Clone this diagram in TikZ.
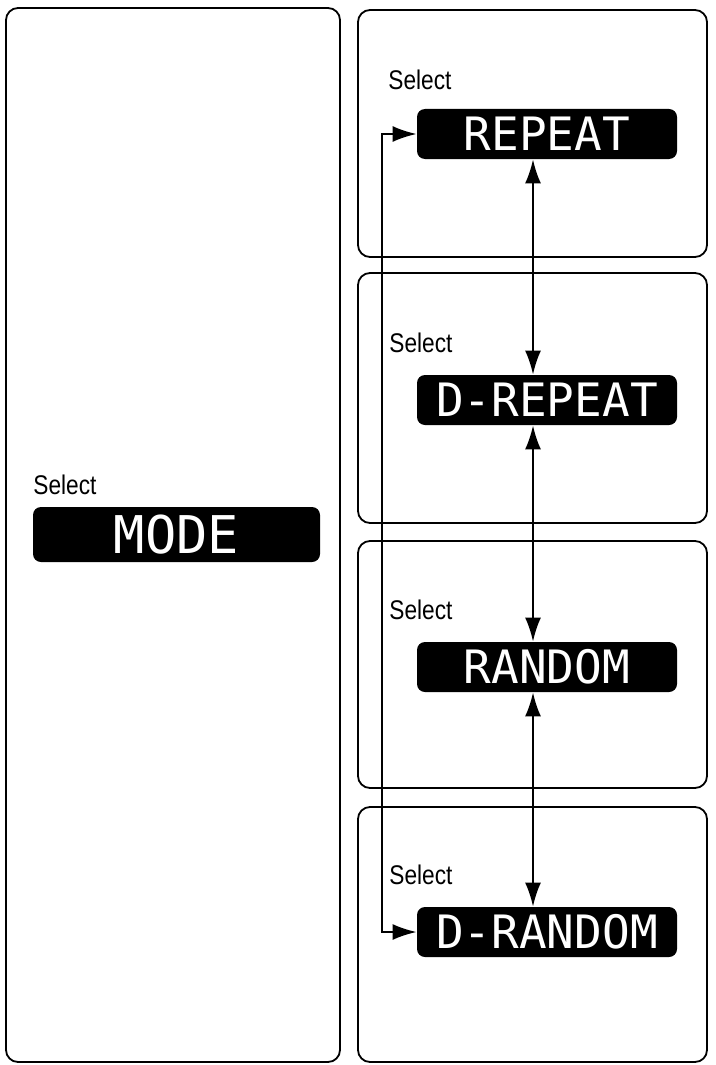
\documentclass[tikz,border=0pt]{standalone}
\usepackage{fontspec}
\setmainfont{Liberation Sans}
\newfontfamily\selfont[FakeStretch=0.84]{Liberation Sans}
\newfontfamily\lcdfont{DejaVu Sans Mono}
\usetikzlibrary{arrows.meta,positioning}

\begin{document}
\begin{tikzpicture}[x=0.5pt,y=-0.5pt,
    panel/.style={draw,line width=0.9pt,rounded corners=6pt,inner sep=0pt},
    lcd/.style={fill=black,text=white,rounded corners=4pt,inner sep=0pt,
                minimum width=130pt,minimum height=25pt,
                font=\lcdfont\fontsize{23}{23}\selectfont},
    sel/.style={anchor=west,inner sep=0pt,font=\selfont\fontsize{13.5}{13.5}\selectfont},
    dbl/.style={{Latex[length=12pt,width=8pt]}-{Latex[length=12pt,width=8pt]},line width=1pt}]
  \useasboundingbox[fill=white] (0,0) rectangle (716,1065);
  % panels
  \node[panel,minimum width=167pt,minimum height=527pt]   (pmode) at (173,535)   {};
  \node[panel,minimum width=174.5pt,minimum height=123.5pt] (p1) at (532.5,133.5) {};
  \node[panel,minimum width=174.5pt,minimum height=125pt]   (p2) at (532.5,398)   {};
  \node[panel,minimum width=174.5pt,minimum height=123.5pt] (p3) at (532.5,664.5) {};
  \node[panel,minimum width=174.5pt,minimum height=127.5pt] (p4) at (532.5,934.5) {};
  % displays
  \node[lcd,minimum width=143.5pt,minimum height=27.5pt,
        font=\lcdfont\fontsize{26}{26}\selectfont] (mode) at (176.5,534.5) {MODE};
  \node[lcd] (repeat)  at (547,134) {REPEAT};
  \node[lcd] (drepeat) at (547,400) {D-REPEAT};
  \node[lcd] (random)  at (547,667) {RANDOM};
  \node[lcd] (drandom) at (547,932) {D-RANDOM};
  % labels
  \node[sel] (smode)    at (33,485)  {Select};
  \node[sel] (srepeat)  at (388,80)  {Select};
  \node[sel] (sdrepeat) at (389,343) {Select};
  \node[sel] (srandom)  at (389,610) {Select};
  \node[sel] (sdrandom) at (389,875) {Select};
  % arrows
  \draw[dbl] ([xshift=-7pt]repeat.south)  -- ([xshift=-7pt]drepeat.north);
  \draw[dbl] ([xshift=-7pt]drepeat.south) -- ([xshift=-7pt]random.north);
  \draw[dbl] ([xshift=-7pt]random.south)  -- ([xshift=-7pt]drandom.north);
  \coordinate (loop) at (382,0);
  \draw[dbl] (repeat.west) -- (repeat.west -| loop) -- (drandom.west -| loop) -- (drandom.west);
\end{tikzpicture}
\end{document}
